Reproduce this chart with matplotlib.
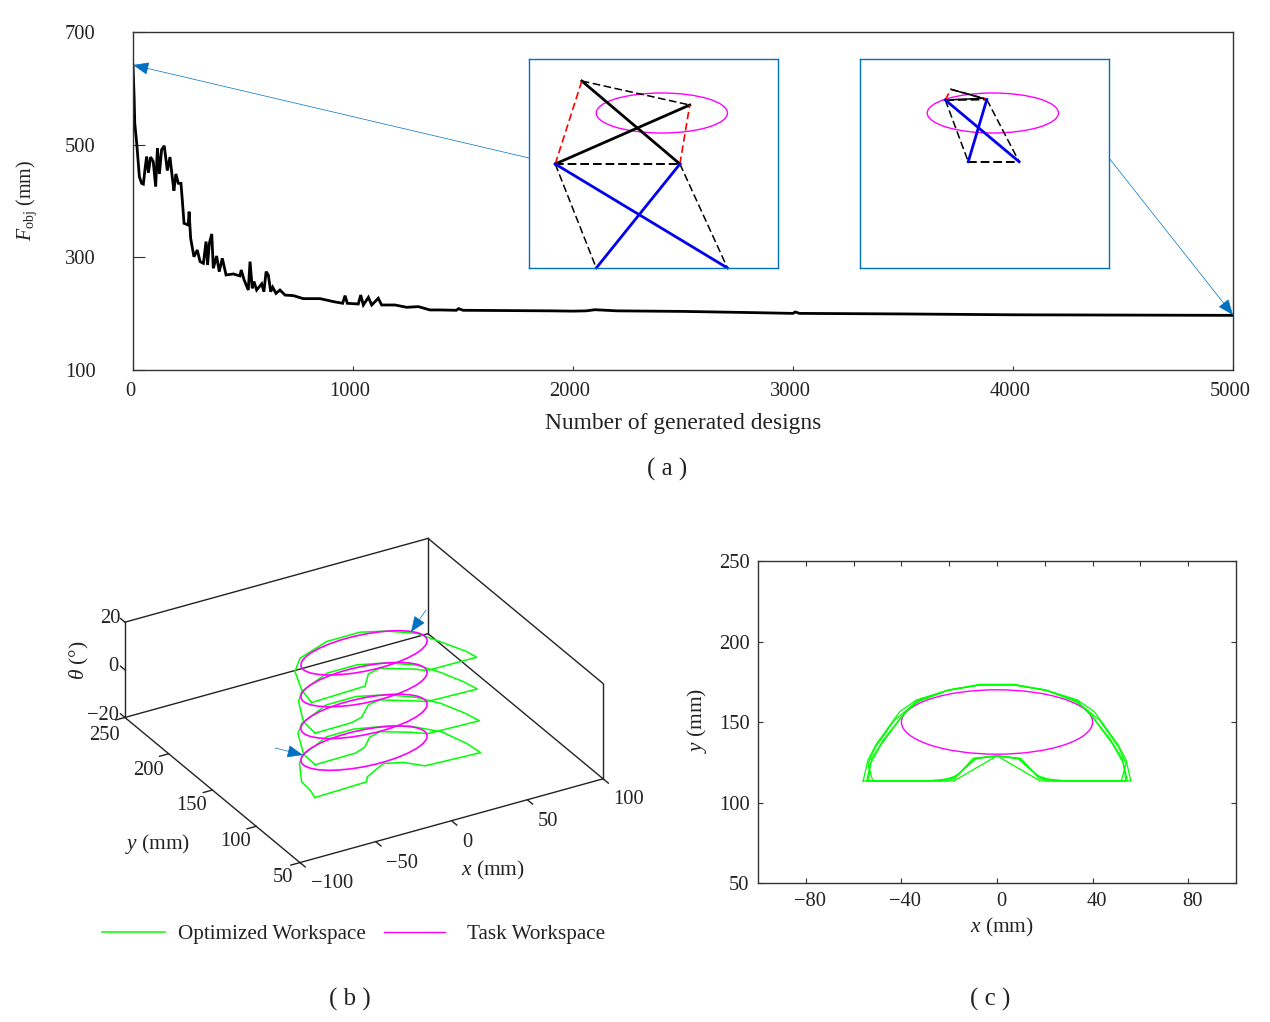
import numpy as np
import matplotlib
matplotlib.use("Agg")
import matplotlib.pyplot as plt
from matplotlib.patches import Ellipse, FancyArrowPatch
from matplotlib.transforms import ScaledTranslation
from mpl_toolkits.mplot3d import art3d

plt.rcParams['font.family'] = ['Liberation Serif', 'DejaVu Serif']
plt.rcParams['mathtext.fontset'] = 'custom'
plt.rcParams['mathtext.rm'] = 'Liberation Serif'
plt.rcParams['mathtext.it'] = 'Liberation Serif:italic'
plt.rcParams['mathtext.bf'] = 'Liberation Serif:bold'

# ---------- data: convergence (a)
gen = [0,5,8,17,29,39,47,55,62,70,
       80,92,103,111,120,130,142,156,168,180,
       186,195,206,218,224,232,251,255,262,277,
       292,305,320,332,339,347,358,365,380,392,
       406,423,456,486,492,505,524,532,542,550,
       562,585,595,605,615,626,635,650,668,691,
       729,774,850,911,953,964,974,1024,1035,1047,
       1070,1085,1115,1130,1191,1244,1297,1350,1395,
       1470,1480,1500,1700,1900,2000,2060,2100,2200,2500,2800,3000,3010,3030,3500,4000,4500,5000]
fobj = [641.5,585,538,502,443,431.4,430,458,479,450,
        478,470,425.5,494,448,491,498,454,478,437,
        418.4,448,431.4,431.4,402,360.4,357.4,381,334,301,
        313,292.4,289.4,328,286.4,325,341.5,280.5,302.4,274.6,
        298.3,268.7,270.5,267,277.6,260,242,292.4,245,257,
        242,253,239,274.6,268.7,239,247,236,242,233,
        232,226.7,226.7,221.4,218.4,232,218.4,217.2,233,215.4,
        229,215.4,227.3,215.4,215.4,211.3,212.5,206.6,206.6,
        206,209,206,205.5,205,204.5,205,207,205,204,202,200.5,203,200.5,199.5,198,197.5,197]

# ---------- data: task workspace ellipse
ell_cx, ell_cy, ell_w, ell_h = 0, 150, 80, 40
theta_levels = [-20, -6.67, 6.67, 20]

# ---------- data: inset mechanisms (mm) [left-mid, right-mid, apex-1, apex-2, base-left, base-right]
mech1_x = [-65, 11, -48.8, 17, -40, 40]
mech1_y = [99, 99, 182, 158, -5, -5]
mech2_x = [-29, -3.7, -25.6, -5.5, -15, 16]
mech2_y = [163, 163.5, 173.7, 164.7, 101.3, 101.3]

# ---------- data: workspace outlines, panel (b)
bx0 = [-53.7,-18.8,-15.5,0.4,10.9,19.6,55,53.6,48.2,36,22.7,6,-11.7,-34.2,-41,-51,-51.8,-53.7]
by0 = [113,114.4,119.4,128.6,124,114.3,112,125.4,144.6,159.5,167,172.7,172.4,160.2,152.7,133,122,113]
bx1 = [-53,-26,-18,-9.5,-1,14,21,54.5,52,46,37,24,8,-12,-35,-43,-52.5,-53]
by1 = [114,114.5,118,127,129.5,120,114,112.5,124,141,155,166,172.8,172.6,160.5,151,128,114]
bx2 = [-53.2,-28.8,-20.6,-10,-1.2,16.4,20.9,53.4,50.9,45,37.8,24.3,8.2,-11.7,-35,-42.6,-52.1,-53.2]
by2 = [113.8,114.2,117,127.8,129.6,118,114.4,113.1,124.7,141,155,166,172.5,172.4,160.6,151,129,113.8]
bx3 = [-55.6,-21.6,-19.6,-10.4,-1.2,15.5,20.4,53.1,51.6,44.3,37.8,24.3,10.4,-11.7,-34.8,-45.3,-52.9,-55.6]
by3 = [113.6,115.2,115,127,129.6,118.6,113.7,113.3,122,140,155,166,172.5,172.4,162.8,150.5,129.6,113.6]

# ---------- data: workspace outlines, panel (c)
cx0 = [-56,-54,-50.5,-40.7,-33.7,-21,-7,7,21,33.7,40.7,50.5,54,56,29.5,17.6,10,0,-10,-17.6,-29.5,-56]
cy0 = [113.4,126.4,136.3,156.4,163.7,169.5,173.4,173.4,169.5,163.7,156.4,136.3,126.4,113.4,113.4,115,127.4,129,127.4,115,113.4,113.4]
cx1 = [-54.5,-53,-48.5,-40,-33.7,-21,-7,7,21,33.7,40,48.5,53,54.5,24,17,9,0,-9,-17,-24,-54.5]
cy1 = [113.4,124,136,153,163,169.5,173,173,169.5,163,153,136,124,113.4,113.4,116.5,127,129,127,116.5,113.4,113.4]
cx2 = [-54,-52.5,-47.5,-38.5,-32,-20,-7,7,20,32,38.5,47.5,52.5,54,20.5,16,9,0,-9,-16,-20.5,-54]
cy2 = [113.4,127,139,156,164,170,173.2,173.2,170,164,156,139,127,113.4,113.4,118,127.5,129,127.5,118,113.4,113.4]
cx3 = [-52,-54,-51,-43,-34,-20,-7,7,20,34,43,51,54,52,18,0,-18,-52]
cy3 = [113.4,124,134,151,162,170,173,173,170,162,151,134,124,113.4,113.4,129,113.4,113.4]

WX, WY = 1270, 1022
fig = plt.figure(figsize=(WX / 100, WY / 100), dpi=100, facecolor='white')

def P(x, y):
    return (x / WX, 1 - y / WY)

def add_ax(l, t, r, b, **kw):
    return fig.add_axes([l / WX, 1 - b / WY, (r - l) / WX, (b - t) / WY], **kw)

def shift_labels(labels, dx, dy):
    off = ScaledTranslation(dx / 100, dy / 100, fig.dpi_scale_trans)
    for lab in labels:
        lab.set_transform(lab.get_transform() + off)

FS = 14.8
GREEN, MAG = '#00ff00', '#ff00ff'
BLUE = '#0070c0'
EDGE = '#333333'
tc = '#222222'
CAP = 18
LAB = 15.4

# ---------- panel a
axa = add_ax(133, 32, 1233, 370)
axa.plot(gen, fobj, color='black', lw=2.0, solid_joinstyle='miter')
axa.set_xlim(0, 5000)
axa.set_ylim(100, 700)
axa.set_xticks([0, 1000, 2000, 3000, 4000, 5000])
axa.set_yticks([100, 300, 500, 700])
axa.tick_params(axis='y', direction='in', length=8.6, width=0.8, pad=27, labelsize=FS, color=EDGE, labelcolor=tc)
axa.tick_params(axis='x', direction='in', length=3, width=0.8, pad=9, labelsize=FS, color=EDGE, labelcolor=tc)
shift_labels(axa.get_xticklabels(), -3, 0)
for s in axa.spines.values():
    s.set_color(EDGE); s.set_linewidth(1.0)
fig.text(*P(683, 424), 'Number of generated designs', ha='center', va='center', fontsize=16.9, color=tc)
fig.text(*P(27, 200), r'$F_{\mathrm{obj}}$ (mm)', ha='center', va='center', rotation=90, fontsize=14.4, color=tc)
fig.text(*P(667, 469), '( a )', ha='center', va='center', fontsize=CAP, color=tc)

# ---------- insets
def inset(l, mx, my, with_base, link_lw):
    ax = add_ax(l, 59, l + 249, 268)
    ax.set_xlim(-81, 70.8)
    ax.set_ylim(-5, 204)
    ax.set_xticks([]); ax.set_yticks([])
    for s in ax.spines.values():
        s.set_color(BLUE); s.set_linewidth(1.0)
    ax.add_patch(Ellipse((ell_cx, ell_cy), ell_w, ell_h, fill=False, ec=MAG, lw=1.0))
    def seg(i, j, **k):
        ax.plot([mx[i], mx[j]], [my[i], my[j]], clip_on=False, **k)
    sb = dict(color='black', lw=link_lw)
    seg(2, 1, **sb); seg(3, 0, **sb)
    dk = dict(color='black', lw=1.1, dashes=(5, 2.3))
    seg(0, 4, **dk); seg(1, 5, **dk); seg(2, 3, **dk)
    seg(0, 1, color='black', lw=1.4, dashes=(4.5, 2))
    if with_base:
        seg(4, 5, color='black', lw=1.4, dashes=(4.5, 2))
    rd = dict(color='red', lw=1.2, dashes=(4.5, 2.3))
    seg(0, 2, **rd); seg(1, 3, **rd)
    bl = dict(color='#0000ee', lw=2.0)
    seg(0, 5, **bl); seg(1, 4, **bl)
    return ax

inset(529, mech1_x, mech1_y, False, 2.0)
inset(860, mech2_x, mech2_y, True, 1.1)

# ---------- panel b (3D)
S = 492
axb = fig.add_axes([(364 - 0.5135 * S) / WX, (1022 - 700.5 - 0.5135 * S) / WY, S / WX, S / WY],
                   projection='3d', proj_type='ortho')
axb.set_box_aspect((1, 1, 0.31))
axb.view_init(elev=28.6, azim=-120)
axb.set_xlim(-100, 100); axb.set_ylim(50, 250); axb.set_zlim(-20, 20)
axb.set_axis_off()
axb.patch.set_alpha(0)

box = dict(color='#222222', lw=1.0, clip_on=False)
x0, x1, y0, y1, z0, z1 = -100, 100, 50, 250, -20, 20
for xs, ys, zs in [([x0, x1], [y0, y0], [z0, z0]), ([x0, x0], [y0, y1], [z0, z0]),
                   ([x0, x1], [y1, y1], [z0, z0]), ([x1, x1], [y0, y1], [z0, z0]),
                   ([x0, x0], [y1, y1], [z0, z1]), ([x1, x1], [y1, y1], [z0, z1]),
                   ([x1, x1], [y0, y0], [z0, z1]), ([x0, x1], [y1, y1], [z1, z1]),
                   ([x1, x1], [y0, y1], [z1, z1])]:
    axb.plot(xs, ys, zs, **box)
for t in [-100, -50, 0, 50, 100]:
    axb.plot([t, t], [50, 44], [z0, z0], **box)
for t in [50, 100, 150, 200, 250]:
    axb.plot([-100, -106], [t, t], [z0, z0], **box)
for t in [-20, 0, 20]:
    axb.plot([-100, -100], [250, 255], [t, t], **box)

line_g = None
for lev, xs, ys in zip(theta_levels, [bx0, bx1, bx2, bx3], [by0, by1, by2, by3]):
    line_g, = axb.plot(xs, ys, [lev] * len(xs), color=GREEN, lw=1.1)
    e = Ellipse((ell_cx, ell_cy), ell_w, ell_h, fill=False, ec=MAG, lw=1.2)
    axb.add_patch(e)
    art3d.pathpatch_2d_to_3d(e, z=lev, zdir='z')
line_m, = axb.plot([], [], [], color=MAG, lw=1.0)

for (px, py, s) in [(110, 616, '20'), (113, 664, '0'), (103, 713, '\u221220'),
                    (104, 733, '250'), (148, 768, '200'), (192, 803, '150'), (236, 839, '100'), (283, 875, '50'),
                    (332, 881, '\u2212100'), (402, 861, '\u221250'), (467, 840, '0'), (548, 819, '50'), (629, 797, '100')]:
    fig.text(*P(px, py + 2.5), s, ha='center', va='center', fontsize=FS, color=tc, zorder=5)
fig.text(*P(493, 870), r'$x$ (mm)', ha='center', va='center', fontsize=LAB, color=tc)
fig.text(*P(158, 844), r'$y$ (mm)', ha='center', va='center', fontsize=LAB, color=tc)
fig.text(*P(79, 660), r'$\theta$ (°)', ha='center', va='center', rotation=90, fontsize=LAB, color=tc)

fig.legend([line_g], ['Optimized Workspace'], loc='center left', bbox_to_anchor=P(102, 934), frameon=False,
           borderpad=0, borderaxespad=0, handlelength=3.0, handletextpad=0.62, fontsize=15.2, labelcolor=tc)
fig.legend([line_m], ['Task Workspace'], loc='center left', bbox_to_anchor=P(384, 934), frameon=False,
           borderpad=0, borderaxespad=0, handlelength=2.9, handletextpad=1.05, fontsize=15.2, labelcolor=tc)
fig.text(*P(350, 999), '( b )', ha='center', va='center', fontsize=CAP, color=tc)

# ---------- panel c
axc = add_ax(758, 561, 1236, 883)
for xs, ys in zip([cx0, cx1, cx2, cx3], [cy0, cy1, cy2, cy3]):
    axc.plot(xs, ys, color=GREEN, lw=0.9)
axc.add_patch(Ellipse((ell_cx, ell_cy), ell_w, ell_h, fill=False, ec=MAG, lw=1.0))
axc.set_xlim(-100, 100)
axc.set_ylim(50, 250)
axc.set_xticks([-80, -40, 0, 40, 80])
axc.set_yticks([50, 100, 150, 200, 250])
axc.tick_params(axis='both', direction='in', length=3.6, width=0.8, labelsize=FS, color=EDGE, right=True, labelcolor=tc)
axc.tick_params(axis='y', pad=6)
axc.tick_params(axis='x', pad=6.5)
shift_labels(axc.get_xticklabels(), 4, 0)
top = axc.secondary_xaxis('top')
top.set_xticks(list(range(-80, 81, 20)))
top.tick_params(direction='in', length=3.6, width=0.8, labelsize=0, labeltop=False, color=EDGE)
top.spines['top'].set_visible(False)
for s in axc.spines.values():
    s.set_color(EDGE); s.set_linewidth(1.0)
fig.text(*P(1002, 927), r'$x$ (mm)', ha='center', va='center', fontsize=LAB, color=tc)
fig.text(*P(697, 720), r'$y$ (mm)', ha='center', va='center', rotation=90, fontsize=LAB, color=tc)
fig.text(*P(990, 999), '( c )', ha='center', va='center', fontsize=CAP, color=tc)

# ---------- callout arrows
def arrow(a, b, head=10):
    fig.add_artist(FancyArrowPatch(P(*a), P(*b), transform=fig.transFigure, arrowstyle='-|>,head_length=1.0,head_width=0.4',
                                   mutation_scale=head, color=BLUE, lw=0.5, shrinkA=0, shrinkB=0, zorder=10))

arrow((529, 158), (133, 65))
arrow((1109, 158), (1233, 315))
arrow((426, 610), (411, 632))
arrow((275, 748), (303, 755))

fig.savefig('out.png', dpi=100)
